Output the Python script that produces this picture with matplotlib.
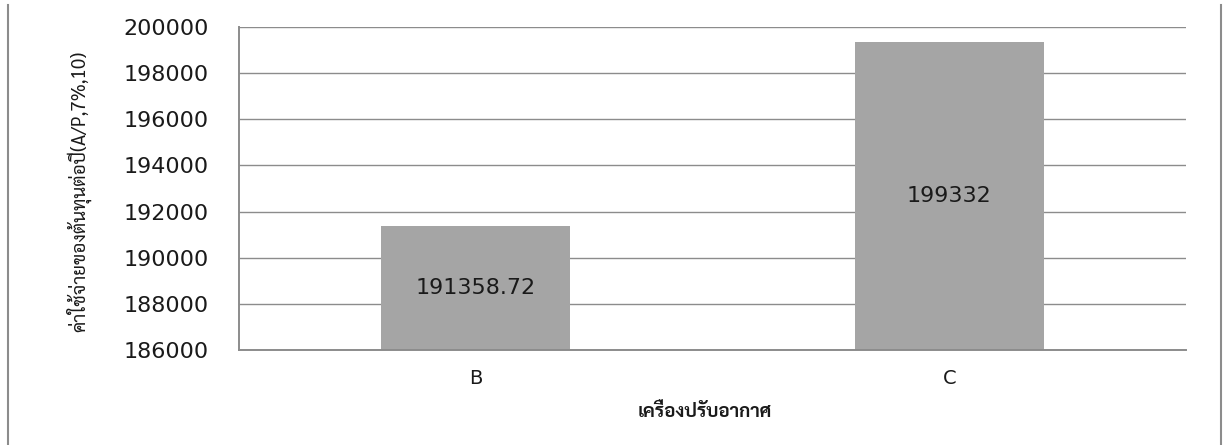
import matplotlib
matplotlib.use("Agg")
import matplotlib.pyplot as plt
from matplotlib.lines import Line2D

# ข้อมูลค่าใช้จ่ายต่อปีของเครื่องปรับอากาศ
machines = ["B", "C"]
annual_cost = [191358.72, 199332]
cost_labels = ["191358.72", "199332"]
y_ticks = [186000, 188000, 190000, 192000, 194000, 196000, 198000, 200000]

thai_fonts = ["Sarabun", "Noto Sans Thai", "Tahoma", "Bai Jamjuree", "DejaVu Sans"]

fig = plt.figure(figsize=(12.23, 4.45), dpi=100)
ax = fig.add_axes([0.1954, 0.2135, 0.9698 - 0.1954, 0.9393 - 0.2135])

x = range(len(machines))
bars = ax.bar(x, annual_cost, width=0.4, color="#a5a5a5", zorder=2)
for b, lbl in zip(bars, cost_labels):
    ax.text(b.get_x() + b.get_width() / 2, (186000 + b.get_height()) / 2, lbl,
            ha="center", va="center", fontsize=16, color="#1a1a1a", zorder=3)

ax.set_xlim(-0.5, 1.5)
ax.set_ylim(186000, 200000)
ax.set_yticks(y_ticks)
ax.set_yticklabels([str(v) for v in y_ticks], fontsize=16, color="#1a1a1a")
ax.set_xticks(list(x))
ax.set_xticklabels(machines, fontsize=14, color="#1a1a1a")
ax.tick_params(length=0, pad=14)
ax.tick_params(axis="y", pad=22)
ax.grid(axis="y", color="#8c8c8c", linewidth=1.0, zorder=0)
for s in ["top", "right"]:
    ax.spines[s].set_visible(False)
for s in ["left", "bottom"]:
    ax.spines[s].set_color("#8c8c8c")
    ax.spines[s].set_linewidth(1.4)

ax.set_ylabel("ค่าใช้จ่ายของต้นทุนต่อปี(A/P,7%,10)", fontsize=13.5,
              family=thai_fonts, color="#1a1a1a")
ax.yaxis.set_label_coords(-0.156, 0.49)
ax.set_xlabel("เครื่องปรับอากาศ", fontsize=13.5, fontweight="bold",
              family=thai_fonts, color="#1a1a1a")
ax.xaxis.set_label_coords(0.492, -0.165)

# เส้นขอบด้านซ้ายและขวาของพื้นที่แผนภูมิ
for xf in [8 / 1223, 1221 / 1223]:
    fig.add_artist(Line2D([xf, xf], [0, 1 - 5 / 445], transform=fig.transFigure,
                          color="#8c8c8c", linewidth=1.5))

fig.savefig("out.png", dpi=100)
